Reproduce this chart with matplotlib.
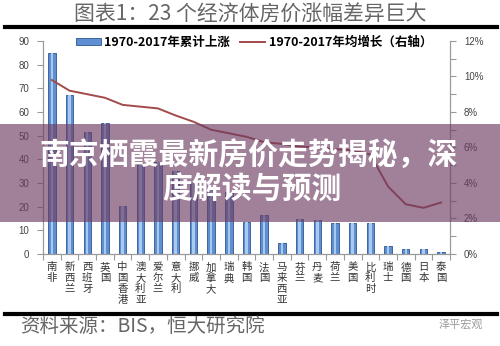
import numpy as np
import matplotlib
matplotlib.use('Agg')
import matplotlib.pyplot as plt
from matplotlib.patches import Patch, Rectangle
from matplotlib.lines import Line2D

plt.rcParams['font.family'] = ['Noto Sans CJK SC', 'DejaVu Sans']

# 23 economies, sorted by average annual house price growth
economies = ['南非', '新西兰', '西班牙', '英国', '中国香港', '澳大利亚', '爱尔兰',
             '意大利', '挪威', '加拿大', '瑞典', '韩国', '法国', '马来西亚', '芬兰',
             '丹麦', '荷兰', '美国', '比利时', '瑞士', '德国', '日本', '泰国']
# cumulative rise 1970-2017 (times), left axis
cum_rise = [85, 67, 51.5, 55.3, 20.3, 38, 39, 35, 30, 27, 26, 13.4, 16.5,
            4.8, 14.8, 14.5, 13.0, 13.0, 13.0, 3.5, 2.3, 2.3, 1.0]
# average annual growth 1970-2017 (%), right axis
annual_growth = [9.8, 9.2, 9.0, 8.8, 8.4, 8.3, 8.2, 7.8, 7.45, 7.0, 6.8, 6.6,
                 6.3, 6.2, 6.05, 6.0, 5.9, 5.85, 5.6, 3.8, 2.8, 2.6, 2.9]
left_ticks = list(range(0, 91, 10))
right_ticks = list(range(0, 13, 2))

bar_face = '#5d8fd2'
bar_edge = '#2c5590'
line_color = '#a34a4a'
axis_grey = '#9a9a9a'
tick_font = ['Liberation Sans', 'DejaVu Sans']

fig = plt.figure(figsize=(5, 3.46), dpi=100)
ax = fig.add_axes([0.086, 0.266, 0.814, 0.6156])
ax2 = ax.twinx()

x = np.arange(len(economies))
ax.bar(x, cum_rise, width=0.42, color=bar_face, edgecolor=bar_edge, linewidth=0.6, zorder=2)
ax.bar(x, cum_rise, width=0.14, color='#a9c9ee', linewidth=0, zorder=3)
ax2.plot(x, annual_growth, color=line_color, lw=1.4)

ax.set_xlim(-0.5, len(economies) - 0.5)
ax.set_ylim(0, 90)
ax2.set_ylim(0, 12)

ax.set_yticks(left_ticks)
ax.set_yticklabels([str(v) for v in left_ticks], family=tick_font, fontsize=7, color='#444')
ax2.set_yticks(right_ticks)
ax2.set_yticklabels([f'{v}%' for v in right_ticks], family=tick_font, fontsize=7, color='#444')
ax2.set_yticks(range(1, 12, 2), minor=True)

ax.set_xticks(x)
ax.set_xticklabels(['\n'.join(n) for n in economies], fontsize=7.5, color='#333',
                   linespacing=1.1, va='top')
ax.set_xticks(np.arange(-0.5, len(economies), 1), minor=True)

ax.tick_params(axis='x', which='major', length=0, pad=6)
ax.tick_params(axis='x', which='minor', length=4, color=axis_grey, width=0.8)
ax.tick_params(axis='y', length=4, color=axis_grey, width=0.8, pad=6)
ax2.tick_params(axis='y', which='both', length=4, color=axis_grey, width=0.8, pad=6)

for a in (ax, ax2):
    a.spines['top'].set_visible(False)
    for s in ('left', 'right', 'bottom'):
        a.spines[s].set_color(axis_grey)
        a.spines[s].set_linewidth(0.8)

fig.legend(handles=[Patch(facecolor=bar_face, edgecolor=bar_edge, lw=0.6),
                    Line2D([], [], color=line_color, lw=1.4)],
           labels=['1970-2017年累计上涨', '1970-2017年均增长（右轴）'],
           loc='center', bbox_to_anchor=(0.508, 1 - 42 / 346), ncol=2, frameon=False,
           prop={'weight': 'bold', 'size': 9}, handlelength=2.0, handleheight=0.5,
           columnspacing=0.8, handletextpad=0.3, borderpad=0)

# header, rules and source line
fig.text(0.5, 1 - 14 / 346, '图表1：23 个经济体房价涨幅差异巨大', ha='center', va='center',
         fontsize=15, color='#666')
for yy in (27, 314):
    fig.add_artist(Line2D([0.01, 0.994], [1 - yy / 346] * 2, color='black', lw=3,
                          transform=fig.transFigure))
fig.text(20 / 500, 1 - 326 / 346, '资料来源：BIS，恒大研究院', va='center',
         fontsize=14, color='#666')
fig.text(483 / 500, 1 - 324 / 346, '泽平宏观', ha='right', va='center',
         fontsize=8, color='#999')

# banner across the middle
fig.add_artist(Rectangle((0, 1 - 222 / 346), 1, 98 / 346, transform=fig.transFigure,
                         facecolor=(0.43, 0.24, 0.39), alpha=0.65, lw=0, zorder=10))
fig.text(0.497, 1 - 155 / 346, '南京栖霞最新房价走势揭秘，深', ha='center', va='center',
         fontsize=21.5, weight='bold', color='white', zorder=11)
fig.text(0.503, 1 - 190 / 346, '度解读与预测', ha='center', va='center',
         fontsize=21.5, weight='bold', color='white', zorder=11)

fig.savefig('out.png', dpi=100)
